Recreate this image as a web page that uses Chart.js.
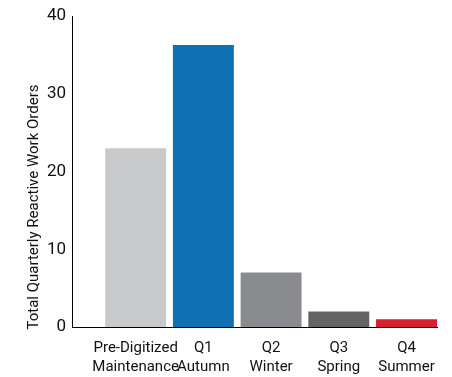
<!DOCTYPE html>
<html>
<head>
<meta charset="utf-8">
<script src="https://cdn.jsdelivr.net/npm/chart.js@4"></script>
<style>
  html, body { margin: 0; padding: 0; background: #fff; }
  #wrap { width: 452px; height: 377px; }
</style>
</head>
<body>
<div id="wrap"><canvas id="chart" width="452" height="377"></canvas></div>
<script>
// Data
const categories = [
  ['Pre-Digitized', 'Maintenance'],
  ['Q1', 'Autumn'],
  ['Q2', 'Winter'],
  ['Q3', 'Spring'],
  ['Q4', 'Summer']
];
const workOrders = [23, 36.3, 7, 2, 1];
const barColors = ['#c8c9cb', '#1070b4', '#8a8b8e', '#636466', '#d91f2d'];
const yTicks = [0, 10, 20, 30, 40];
const yTitle = 'Total Quarterly Reactive Work Orders';

const FONT = "'Roboto', sans-serif";

const points = workOrders.map((v, i) => ({ x: i, y: v }));

// y title sits lower than the plot centre in the original, so draw it by hand
const yTitlePlugin = {
  id: 'yTitle',
  afterDraw(chart) {
    const ctx = chart.ctx;
    ctx.save();
    ctx.translate(34, 207);
    ctx.rotate(-Math.PI / 2);
    ctx.font = `15px ${FONT}`;
    ctx.fillStyle = '#111';
    ctx.textAlign = 'center';
    ctx.textBaseline = 'middle';
    ctx.fillText(yTitle, 0, 0);
    ctx.restore();
  }
};

new Chart(document.getElementById('chart'), {
  type: 'bar',
  data: {
    datasets: [{
      data: points,
      backgroundColor: barColors,
      borderWidth: 0,
      barPercentage: 0.9,
      categoryPercentage: 1.0
    }]
  },
  options: {
    responsive: false,
    animation: false,
    layout: { padding: { top: 8, right: 15, left: 0, bottom: 0 } },
    plugins: {
      legend: { display: false },
      tooltip: { enabled: false }
    },
    scales: {
      x: {
        type: 'linear',
        offset: false,
        min: -0.94,
        max: 4.45,
        afterBuildTicks: (axis) => {
          axis.ticks = categories.map((c, i) => ({ value: i }));
        },
        afterFit: (axis) => { axis.height = 50; },
        grid: { display: false, drawTicks: false, offset: false },
        border: { color: '#000', width: 1 },
        ticks: {
          autoSkip: false,
          maxRotation: 0,
          padding: 12,
          color: '#111',
          font: { family: FONT, size: 15, lineHeight: 1.25 },
          callback: (v) => categories[v] || ''
        }
      },
      y: {
        min: 0,
        max: 40,
        afterBuildTicks: (axis) => {
          axis.ticks = yTicks.map(v => ({ value: v }));
        },
        afterFit: (axis) => { axis.width = 72; },
        grid: { display: false, drawTicks: false },
        border: { color: '#000', width: 1 },
        ticks: {
          padding: 6,
          color: '#111',
          font: { family: FONT, size: 17 }
        }
      }
    }
  },
  plugins: [yTitlePlugin]
});
</script>
</body>
</html>
